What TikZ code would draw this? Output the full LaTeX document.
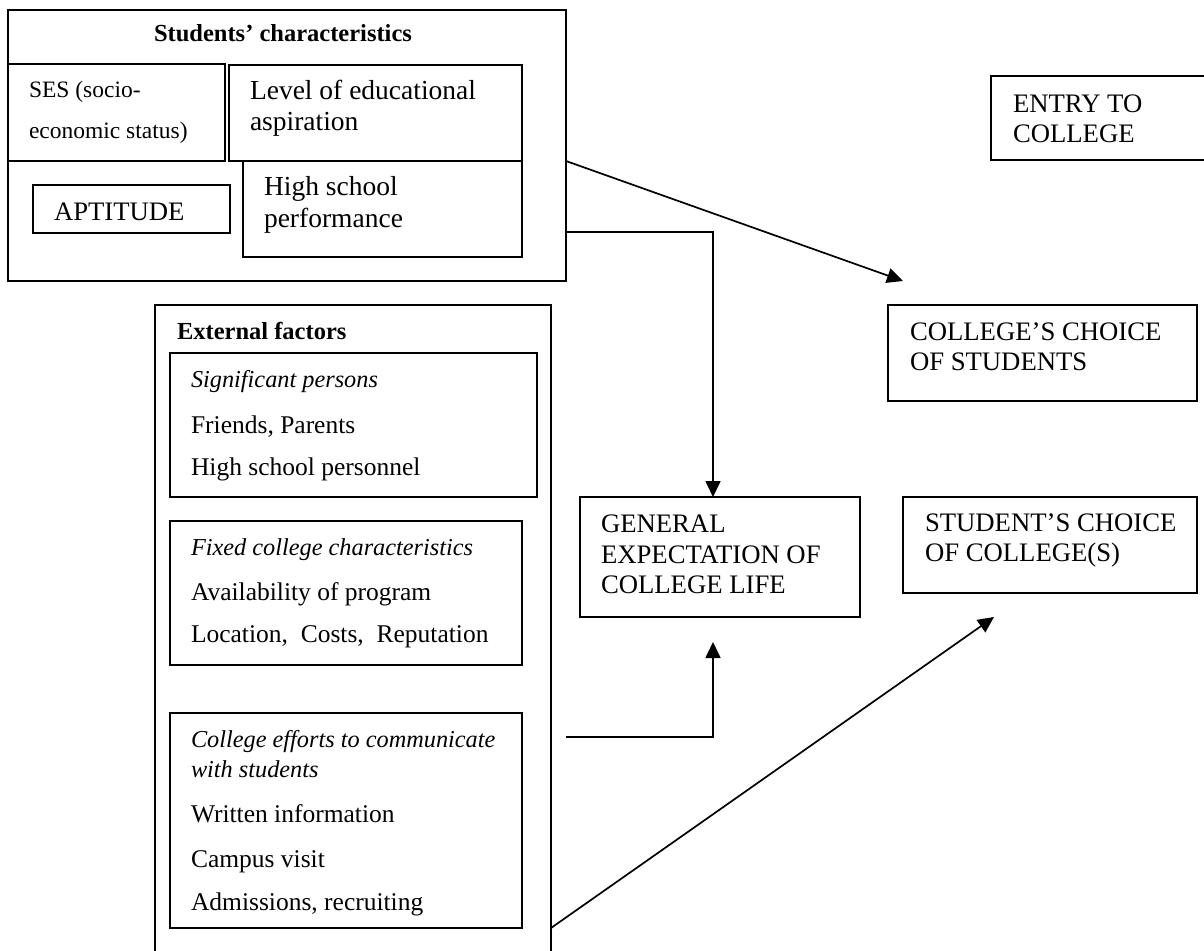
\documentclass[tikz,border=0pt]{standalone}
\usepackage{fontspec}
\setmainfont{Liberation Serif}
\usetikzlibrary{arrows.meta}
\tikzset{
  box/.style={draw, line width=1.7pt, inner sep=0pt, outer sep=0pt, anchor=north west},
  txt/.style={anchor=base west, inner sep=0pt, outer sep=0pt},
  ctxt/.style={anchor=base, inner sep=0pt, outer sep=0pt},
  conn/.style={line width=1.7pt},
  arr/.style={conn, -{Triangle[length=16pt,width=15pt]}},
}
\newcommand\mybox[5]{\node[box,minimum width={(#4-#2)*1pt},minimum height={(#5-#3)*1pt}] (#1) at (#2,#3) {};}
\newcommand\fcap{\fontsize{26.7}{30}\selectfont}
\newcommand\fbody{\fontsize{25.5}{30}\selectfont}
\newcommand\fital{\fontsize{24.3}{29}\selectfont\itshape}
\newcommand\flev{\fontsize{27.5}{32}\selectfont}
\newcommand\fses{\fontsize{23.5}{28}\selectfont}
\newcommand\fhead{\fontsize{24.5}{29}\selectfont\bfseries}
\begin{document}
\begin{tikzpicture}[x=1pt,y=-1pt]
\useasboundingbox (0,0) rectangle (1204,950);
% Students' characteristics
\mybox{studs}{8}{10}{566}{281}
\mybox{ses}{8}{64}{225}{161}
\mybox{level}{229}{65}{522}{161}
\mybox{hs}{243}{161}{522}{257}
\mybox{apt}{33}{185}{230}{233}
\node[ctxt,font=\fhead] (tstud) at (283,42) {Students’ characteristics};
\node[txt,font=\fses] (tses1) at (29,97) {SES (socio-};
\node[txt,font=\fses] (tses2) at (29,138) {economic status)};
\node[txt,font=\flev] (tlev1) at (250,99) {Level of educational};
\node[txt,font=\flev] (tlev2) at (250,130) {aspiration};
\node[txt,font=\flev] (ths1) at (264,195) {High school};
\node[txt,font=\flev] (ths2) at (264,227) {performance};
\node[txt,font=\fcap] (tapt) at (54,220) {APTITUDE};
% right column
\mybox{entry}{991}{76}{1216}{160}
\node[txt,font=\fcap] (tent1) at (1013,112) {ENTRY TO};
\node[txt,font=\fcap] (tent2) at (1013,142) {COLLEGE};
\mybox{cch}{888}{305}{1197}{401}
\node[txt,font=\fcap] (tcc1) at (910,340) {COLLEGE’S CHOICE};
\node[txt,font=\fcap] (tcc2) at (910,370) {OF STUDENTS};
\mybox{sch}{903}{497}{1197}{593}
\node[txt,font=\fcap] (tsc1) at (925,531) {STUDENT’S CHOICE};
\node[txt,font=\fcap] (tsc2) at (925,561) {OF COLLEGE(S)};
\mybox{gen}{580}{497}{860}{617}
\node[txt,font=\fcap] (tg1) at (601,532) {GENERAL};
\node[txt,font=\fcap] (tg2) at (601,563) {EXPECTATION OF};
\node[txt,font=\fcap] (tg3) at (601,593) {COLLEGE LIFE};
% External factors
\mybox{ext}{155}{305}{551}{975}
\node[txt,font=\fhead] (text) at (177,339) {External factors};
\mybox{sig}{170}{353}{537}{497}
\node[txt,font=\fital] (tsig1) at (191,387) {Significant persons};
\node[txt,font=\fbody] (tsig2) at (191,433) {Friends, Parents};
\node[txt,font=\fbody] (tsig3) at (191,475) {High school personnel};
\mybox{fix}{170}{521}{522}{665}
\node[txt,font=\fital] (tfix1) at (191,555) {Fixed college characteristics};
\node[txt,font=\fbody] (tfix2) at (191,600) {Availability of program};
\node[txt,font=\fbody] (tfix3) at (191,642) {Location,\ \ Costs,\ \ Reputation};
\mybox{eff}{170}{713}{522}{928}
\node[txt,font=\fital] (teff1) at (191,747) {College efforts to communicate};
\node[txt,font=\fital] (teff2) at (191,777) {with students};
\node[txt,font=\fbody] (teff3) at (191,822) {Written information};
\node[txt,font=\fbody] (teff4) at (191,867) {Campus visit};
\node[txt,font=\fbody] (teff5) at (191,910) {Admissions, recruiting};
% connectors
\coordinate (a1) at (903,281);
\draw[arr] (studs.east |- level.south) -- (a1);
\coordinate (s2) at (566,232);
\coordinate (k1) at (713,232);
\draw[arr] (s2) -- (k1) -- (k1 |- gen.north);
\coordinate (e1) at (566,737);
\coordinate (k2) at (713,737);
\coordinate (u1) at (713,642);
\draw[arr] (e1) -- (k2) -- (u1);
\coordinate (d2) at (994,617);
\draw[arr] (ext.east |- eff.south) -- (d2);
\end{tikzpicture}
\end{document}
